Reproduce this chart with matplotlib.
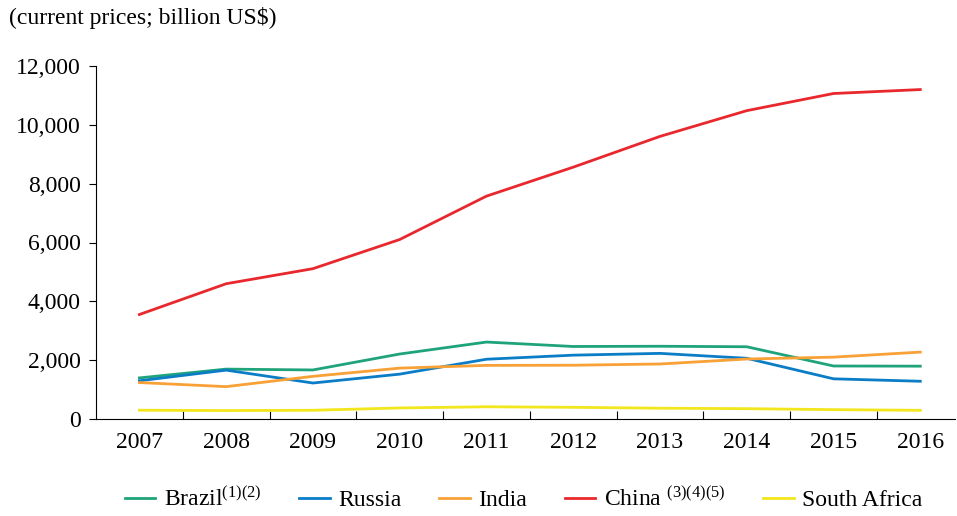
import matplotlib.pyplot as plt

years = ["2007", "2008", "2009", "2010", "2011", "2012", "2013", "2014", "2015", "2016"]
brazil = [1397, 1696, 1667, 2209, 2616, 2465, 2473, 2456, 1802, 1796]
russia = [1300, 1661, 1223, 1525, 2032, 2170, 2231, 2064, 1366, 1283]
india = [1239, 1100, 1450, 1730, 1823, 1828, 1870, 2039, 2103, 2274]
china = [3552, 4598, 5110, 6101, 7576, 8561, 9607, 10482, 11065, 11199]
south_africa = [299, 287, 297, 375, 416, 397, 367, 351, 318, 295]

series = [
    (r"Brazil$^{(1)(2)}$", brazil, "#1fa37a"),
    ("Russia", russia, "#0a7dc6"),
    ("India", india, "#f7a137"),
    (r"China $^{(3)(4)(5)}$", china, "#e8282d"),
    ("South Africa", south_africa, "#f2e61c"),
]

plt.rcParams["font.family"] = ["Liberation Serif", "DejaVu Serif"]
plt.rcParams["mathtext.fontset"] = "custom"
plt.rcParams["mathtext.rm"] = "Liberation Serif"
plt.rcParams["mathtext.it"] = "Liberation Serif"

fig = plt.figure(figsize=(9.57, 5.16), dpi=100)
ax = fig.add_axes([96 / 957, 1 - 419 / 516, 859 / 957, (419 - 66) / 516])

x = list(range(len(years)))
for label, vals, color in series:
    ax.plot(x, vals, color=color, lw=2, label=label)

ax.set_xlim(-0.5, 9.4)
ax.set_ylim(0, 12000)
ax.set_yticks(range(0, 12001, 2000))
ax.set_yticklabels([f"{v:,}" for v in range(0, 12001, 2000)])
ax.set_xticks(x)
ax.set_xticklabels(years)
ax.set_xticks([i + 0.5 for i in range(9)], minor=True)
ax.tick_params(axis="x", which="major", length=0, pad=9, labelsize=17)
ax.tick_params(axis="x", which="minor", direction="in", length=6, width=0.8)
ax.tick_params(axis="y", length=5, width=0.8, labelsize=17, pad=6)
for s in ["top", "right"]:
    ax.spines[s].set_visible(False)
for s in ["left", "bottom"]:
    ax.spines[s].set_linewidth(0.8)

fig.text(9 / 957, 1 - 18 / 516, "(current prices; billion US$)", fontsize=17, va="center")

fig.legend(loc="center", bbox_to_anchor=(0.547, 1 - 499 / 516), ncol=5, frameon=False,
           fontsize=17, handlelength=1.3, columnspacing=1.6, handletextpad=0.35)

fig.savefig("out.png", dpi=100)
